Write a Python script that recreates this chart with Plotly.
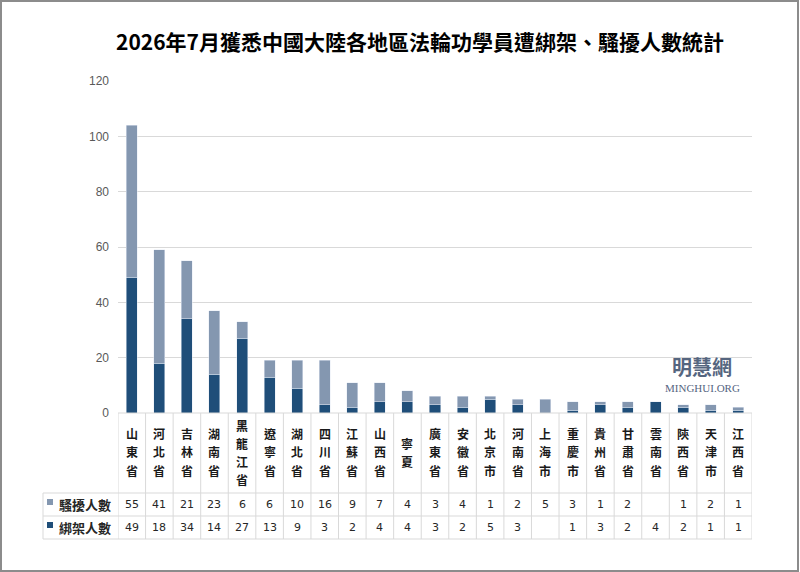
import plotly.graph_objects as go

# data
provinces = ['山東省', '河北省', '吉林省', '湖南省', '黑龍江省', '遼寧省', '湖北省', '四川省',
             '江蘇省', '山西省', '寧夏', '廣東省', '安徽省', '北京市', '河南省', '上海市',
             '重慶市', '貴州省', '甘肅省', '雲南省', '陝西省', '天津市', '江西省']
harassed = [55, 41, 21, 23, 6, 6, 10, 16, 9, 7, 4, 3, 4, 1, 2, 5, 3, 1, 2, None, 1, 2, 1]
abducted = [49, 18, 34, 14, 27, 13, 9, 3, 2, 4, 4, 3, 2, 5, 3, None, 1, 3, 2, 4, 2, 1, 1]
y_ticks = [0, 20, 40, 60, 80, 100, 120]

title = '2026年7月獲悉中國大陸各地區法輪功學員遭綁架、騷擾人數統計'
name_harassed = '騷擾人數'
name_abducted = '綁架人數'

LIGHT = '#8497B0'
DARK = '#1F4E79'
GRID = '#D9D9D9'
CJK = 'Noto Sans CJK TC'

W, H = 800, 572
L, R, T, B = 118, 752, 81, 413   # plot area in pixels


def px(x):
    return (x - L) / (R - L)


def py(y):
    return (B - y) / (B - T)


fig = go.Figure()
fig.add_trace(go.Bar(x=provinces, y=abducted, name=name_abducted, marker_color=DARK))
fig.add_trace(go.Bar(x=provinces, y=harassed, name=name_harassed, marker_color=LIGHT))

shapes = []
annotations = []

# table grid under the chart
row_lines = [493, 516, 539]
for i in range(len(provinces) + 1):
    shapes.append(dict(type='line', xref='x', yref='paper', x0=i - 0.5, x1=i - 0.5,
                       y0=py(B), y1=py(row_lines[-1]), line=dict(color=GRID, width=1)))
shapes.append(dict(type='line', xref='paper', yref='paper', x0=0, x1=1,
                   y0=0, y1=0, line=dict(color=GRID, width=1)))
for yy in row_lines:
    shapes.append(dict(type='line', xref='paper', yref='paper', x0=px(43), x1=1,
                       y0=py(yy), y1=py(yy), line=dict(color=GRID, width=1)))
shapes.append(dict(type='line', xref='paper', yref='paper', x0=px(43), x1=px(43),
                   y0=py(row_lines[0]), y1=py(row_lines[-1]), line=dict(color=GRID, width=1)))

# legend squares
for yc, col in [(502, LIGHT), (525, DARK)]:
    shapes.append(dict(type='rect', xref='paper', yref='paper', x0=px(47), x1=px(53),
                       y0=py(yc + 3), y1=py(yc - 3), fillcolor=col, line=dict(width=0)))

# outer frame
shapes.append(dict(type='rect', xref='paper', yref='paper', x0=px(1), x1=px(798),
                   y0=py(571), y1=py(1), line=dict(color='#8C8C8C', width=2)))

for name, yc in [(name_harassed, 504), (name_abducted, 527)]:
    annotations.append(dict(text='<b>' + name + '</b>', xref='paper', yref='paper',
                            x=px(57), y=py(yc), xanchor='left', yanchor='middle',
                            showarrow=False, font=dict(family=CJK, size=13, color='#262626')))

# vertical category labels, one character per line
step = 18
for prov, h, a in zip(provinces, harassed, abducted):
    n = len(prov)
    top = 452 - step * (n - 1) / 2
    for k, ch in enumerate(prov):
        annotations.append(dict(text='<b>' + ch + '</b>', xref='x', yref='paper',
                                x=prov, y=py(top + k * step), yanchor='middle', showarrow=False,
                                font=dict(family=CJK, size=12, color='#1A1A1A')))
    for v, yc in [(h, 504), (a, 527)]:
        if v is not None:
            annotations.append(dict(text=str(v), xref='x', yref='paper', x=prov, y=py(yc),
                                    yanchor='middle', showarrow=False,
                                    font=dict(family='DejaVu Sans', size=11, color='#262626')))

# title
annotations.append(dict(text='<b>' + title + '</b>', xref='paper', yref='paper',
                        x=px(420), y=py(41), xanchor='center', yanchor='middle', showarrow=False,
                        font=dict(family=CJK, size=21, color='#000000')))

# watermark
annotations.append(dict(text='<b>明慧網</b>', xref='paper', yref='paper', x=px(702), y=py(366),
                        xanchor='center', yanchor='middle', showarrow=False,
                        font=dict(family=CJK, size=20, color='#55657F')))
annotations.append(dict(text='MINGHUI.ORG', xref='paper', yref='paper', x=px(702), y=py(388),
                        xanchor='center', yanchor='middle', showarrow=False,
                        font=dict(family='Liberation Serif', size=11, color='#55657F')))

fig.update_layout(
    width=W, height=H,
    margin=dict(l=L, r=W - R, t=T, b=H - B),
    paper_bgcolor='white', plot_bgcolor='white',
    barmode='stack', bargap=0.6,
    showlegend=False,
    shapes=shapes, annotations=annotations,
    xaxis=dict(range=[-0.5, len(provinces) - 0.5], showticklabels=False, showgrid=False,
               zeroline=False, showline=False, ticks=''),
    yaxis=dict(range=[0, 120], tickvals=y_ticks, showgrid=True, gridcolor=GRID, gridwidth=1,
               zeroline=False, showline=False, ticklabelstandoff=8,
               tickfont=dict(family='Liberation Sans', size=12, color='#595959')),
)

fig.write_html('out.html', config={'displayModeBar': False},
               post_script="document.body.style.margin='0';")
